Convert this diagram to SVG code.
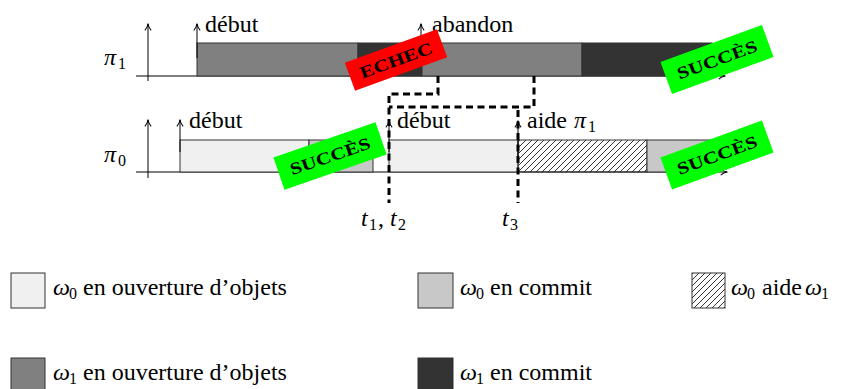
<svg xmlns="http://www.w3.org/2000/svg" width="849" height="389" viewBox="0 0 849 389">
<defs>
<marker id="ah" viewBox="0 0 10 10" refX="9" refY="5" markerWidth="9" markerHeight="9" markerUnits="userSpaceOnUse" orient="auto">
<path d="M2,1.5 Q5,4.5 9.5,5 Q5,5.5 2,8.5" fill="none" stroke="#000" stroke-width="1.2"/>
</marker>
<pattern id="hatch" patternUnits="userSpaceOnUse" width="6" height="6">
<path d="M-1,1 L1,-1 M0,6 L6,0 M5,7 L7,5" stroke="#000" stroke-width="0.8"/>
</pattern>
</defs>
<style>
.axis-line{stroke:#000;stroke-width:1.2;fill:none}
.event-arrow{stroke:#000;stroke-width:1;fill:none;marker-end:url(#ah)}
.seg{stroke:#333;stroke-width:1}
.fill-w1-open{fill:#808080}.fill-w1-commit{fill:#333333}.fill-w0-open{fill:#f0f0f0}.fill-w0-commit{fill:#c8c8c8}.fill-help{fill:url(#hatch)}
.time-mark{stroke:#000;stroke-width:3;fill:none;stroke-dasharray:7 4.5}
.badge-ok{fill:#00ff00}.badge-ko{fill:#ff0000}
</style>
<g id="axis-pi1">
<line class="axis-line" x1="136" y1="76" x2="725" y2="76" marker-end="url(#ah)"/>
<line class="event-arrow" x1="148" y1="81" x2="148" y2="24"/>
<text x="104" y="65" font-family="Liberation Serif" font-size="24" font-style="italic">π</text><text x="118" y="69" font-family="Liberation Serif" font-size="16">1</text>
</g>
<g id="axis-pi0">
<line class="axis-line" x1="136" y1="172" x2="727" y2="172" marker-end="url(#ah)"/>
<line class="event-arrow" x1="148" y1="178" x2="148" y2="120"/>
<text x="104" y="162" font-family="Liberation Serif" font-size="24" font-style="italic">π</text><text x="118" y="166" font-family="Liberation Serif" font-size="16">0</text>
</g>
<g id="bars-pi1">
<rect class="seg fill-w1-open" x="197" y="43" width="161" height="33"/>
<rect class="seg fill-w1-commit" x="358" y="43" width="64" height="33"/>
<rect class="seg fill-w1-open" x="422" y="43" width="160" height="33"/>
<rect class="seg fill-w1-commit" x="582" y="43" width="130" height="33"/>
</g>
<g id="bars-pi0">
<rect class="seg fill-w0-open" x="180" y="140" width="129" height="32"/>
<rect class="seg fill-w0-commit" x="309" y="140" width="64" height="32"/>
<rect class="seg fill-w0-open" x="389" y="140" width="129" height="32"/>
<rect class="seg fill-help" x="518" y="140" width="129" height="32"/>
<rect class="seg fill-w0-commit" x="647" y="140" width="65" height="32"/>
</g>
<g id="event-debut-pi1">
<line class="event-arrow" x1="197" y1="58" x2="197" y2="24"/>
<text x="205" y="32" font-family="Liberation Serif" font-size="24">début</text>
</g>
<g id="event-abandon">
<line class="event-arrow" x1="421" y1="43" x2="421" y2="24"/>
<text x="432" y="32" font-family="Liberation Serif" font-size="24">abandon</text>
</g>
<g id="event-debut-pi0">
<line class="event-arrow" x1="180" y1="152" x2="180" y2="120"/>
<text x="189" y="128" font-family="Liberation Serif" font-size="24">début</text>
</g>
<g id="event-debut2-pi0">
<line class="event-arrow" x1="389" y1="152" x2="389" y2="121"/>
<text x="397" y="128" font-family="Liberation Serif" font-size="24">début</text>
</g>
<g id="event-aide">
<line class="event-arrow" x1="518" y1="160" x2="518" y2="121"/>
<text x="527" y="128" font-family="Liberation Serif" font-size="24">aide</text>
<text x="574" y="128" font-family="Liberation Serif" font-size="24" font-style="italic">π</text><text x="588" y="132" font-family="Liberation Serif" font-size="16">1</text>
</g>
<g id="connectors">
<path class="time-mark" d="M438,76 V94 H389 V203"/>
<path class="time-mark" d="M534,76 V107 H389"/>
<path class="time-mark" d="M518,110 V203"/>
</g>
<g id="label-t12">
<text x="361" y="226" font-family="Liberation Serif" font-size="24" font-style="italic">t</text><text x="369" y="230" font-family="Liberation Serif" font-size="16">1</text>
<text x="378" y="226" font-family="Liberation Serif" font-size="24">,</text>
<text x="390" y="226" font-family="Liberation Serif" font-size="24" font-style="italic">t</text><text x="398" y="230" font-family="Liberation Serif" font-size="16">2</text>
</g>
<g id="label-t3">
<text x="502" y="226" font-family="Liberation Serif" font-size="24" font-style="italic">t</text><text x="510" y="230" font-family="Liberation Serif" font-size="16">3</text>
</g>
<g id="badge-echec" transform="translate(396,60) rotate(-20)">
<rect class="badge-ko" x="-49" y="-15" width="98" height="30"/>
<text x="0" y="6" text-anchor="middle" font-family="Liberation Serif" font-size="17" font-weight="bold" textLength="76" lengthAdjust="spacingAndGlyphs">ECHEC</text>
</g>
<g id="badge-succes-pi1" transform="translate(717,59.5) rotate(-20)">
<rect class="badge-ok" x="-54" y="-17" width="108" height="34"/>
<text x="0" y="6" text-anchor="middle" font-family="Liberation Serif" font-size="17" font-weight="bold" textLength="84" lengthAdjust="spacingAndGlyphs">SUCCÈS</text>
</g>
<g id="badge-succes-pi0a" transform="translate(330,156) rotate(-19)">
<rect class="badge-ok" x="-54" y="-17" width="108" height="34"/>
<text x="0" y="6" text-anchor="middle" font-family="Liberation Serif" font-size="17" font-weight="bold" textLength="84" lengthAdjust="spacingAndGlyphs">SUCCÈS</text>
</g>
<g id="badge-succes-pi0b" transform="translate(717,155) rotate(-20)">
<rect class="badge-ok" x="-54" y="-17" width="108" height="34"/>
<text x="0" y="6" text-anchor="middle" font-family="Liberation Serif" font-size="17" font-weight="bold" textLength="84" lengthAdjust="spacingAndGlyphs">SUCCÈS</text>
</g>
<g id="legend-w0-open">
<rect class="seg fill-w0-open" x="11" y="273" width="34" height="35"/>
<text x="53" y="295" font-family="Liberation Serif" font-size="24" font-style="italic">ω</text><text x="69" y="299" font-family="Liberation Serif" font-size="16">0</text>
<text x="83" y="295" font-family="Liberation Serif" font-size="24">en ouverture d’objets</text>
</g>
<g id="legend-w0-commit">
<rect class="seg fill-w0-commit" x="418" y="273" width="35" height="35"/>
<text x="460" y="295" font-family="Liberation Serif" font-size="24" font-style="italic">ω</text><text x="476" y="299" font-family="Liberation Serif" font-size="16">0</text>
<text x="490" y="295" font-family="Liberation Serif" font-size="24">en commit</text>
</g>
<g id="legend-w0-aide">
<rect class="seg fill-help" x="692" y="273" width="33" height="35"/>
<text x="731" y="295" font-family="Liberation Serif" font-size="24" font-style="italic">ω</text><text x="747" y="299" font-family="Liberation Serif" font-size="16">0</text>
<text x="762" y="295" font-family="Liberation Serif" font-size="24">aide</text>
<text x="805" y="295" font-family="Liberation Serif" font-size="24" font-style="italic">ω</text><text x="821" y="299" font-family="Liberation Serif" font-size="16">1</text>
</g>
<g id="legend-w1-open">
<rect class="seg fill-w1-open" x="11" y="358" width="34" height="35"/>
<text x="53" y="380" font-family="Liberation Serif" font-size="24" font-style="italic">ω</text><text x="69" y="384" font-family="Liberation Serif" font-size="16">1</text>
<text x="83" y="380" font-family="Liberation Serif" font-size="24">en ouverture d’objets</text>
</g>
<g id="legend-w1-commit">
<rect class="seg fill-w1-commit" x="418" y="358" width="35" height="35"/>
<text x="460" y="380" font-family="Liberation Serif" font-size="24" font-style="italic">ω</text><text x="476" y="384" font-family="Liberation Serif" font-size="16">1</text>
<text x="490" y="380" font-family="Liberation Serif" font-size="24">en commit</text>
</g>
</svg>
